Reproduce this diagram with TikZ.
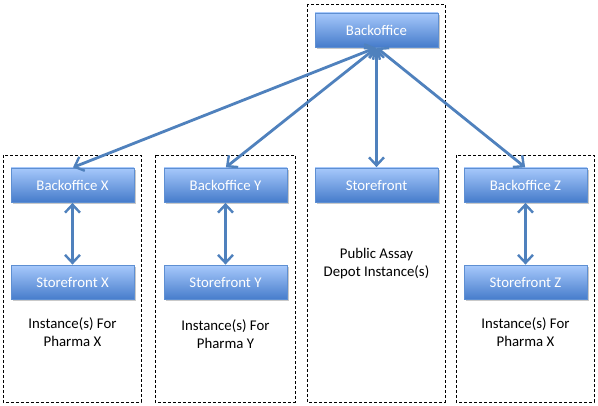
\documentclass[tikz,border=0pt]{standalone}
\usepackage{fontspec}
\setmainfont{Carlito}
\usetikzlibrary{arrows.meta,shadows}
\definecolor{gtop}{HTML}{A6C8FB}
\definecolor{gbot}{HTML}{467CCB}
\definecolor{gborder}{HTML}{5E8FD2}
\definecolor{arr}{HTML}{4F81BD}
\tikzset{
  bluebox/.style={draw=gborder, line width=0.8pt, top color=gtop, bottom color=gbot,
    minimum width=123pt, minimum height=34pt, inner sep=0pt, text=white,
    font=\fontsize{14.8}{17}\selectfont,
    drop shadow={shadow xshift=1.5pt, shadow yshift=-2pt, fill=black!35, opacity=0.6}},
  dashbox/.style={draw=black, dashed, line width=0.8pt, dash pattern=on 3pt off 2pt},
  lbl/.style={align=center, font=\fontsize{14.8}{18}\selectfont, text=black, inner sep=0pt},
  link/.style={draw=arr, line width=2.8pt, {Straight Barb[length=8pt,width=15pt,line width=2.4pt]}-{Straight Barb[length=8pt,width=15pt,line width=2.4pt]}, shorten >=0.5pt, shorten <=0.5pt}
}
\begin{document}
\begin{tikzpicture}[x=1pt,y=-1pt]
\useasboundingbox (0,0) rectangle (598,406);
\fill[white] (0,0) rectangle (598,406);
% dashed containers
\draw[dashbox] (3,155) rectangle (141,402);
\draw[dashbox] (155,155) rectangle (295,402);
\draw[dashbox] (307,4) rectangle (445,402);
\draw[dashbox] (456,155) rectangle (594,402);
% boxes
\node[bluebox] (bo) at (376.5,30) {Backoffice};
\node[bluebox] (sf) at (376.5,185) {Storefront};
\node[bluebox] (box) at (72.5,185) {Backoffice X};
\node[bluebox] (sfx) at (72.5,282.5) {Storefront X};
\node[bluebox] (boy) at (225.5,185) {Backoffice Y};
\node[bluebox] (sfy) at (225.5,282.5) {Storefront Y};
\node[bluebox] (boz) at (525.5,185) {Backoffice Z};
\node[bluebox] (sfz) at (525.5,282.5) {Storefront Z};
% labels
\node[lbl] (lx) at (72.5,332) {Instance(s) For\\Pharma X};
\node[lbl] (ly) at (225.5,334) {Instance(s) For\\Pharma Y};
\node[lbl] (lc) at (376.5,264) {Public Assay\\Depot Instance(s)};
\node[lbl] (lz) at (525.5,332) {Instance(s) For\\Pharma X};
% connectors
\coordinate (hub) at (376.5,47.5);
\draw[link] (hub) -- (box.north);
\draw[link] (hub) -- (boy.north);
\draw[link] (hub) -- (sf.north);
\draw[link] (hub) -- (boz.north);
\draw[link] (box.south) -- (sfx.north);
\draw[link] (boy.south) -- (sfy.north);
\draw[link] (boz.south) -- (sfz.north);
\end{tikzpicture}
\end{document}
